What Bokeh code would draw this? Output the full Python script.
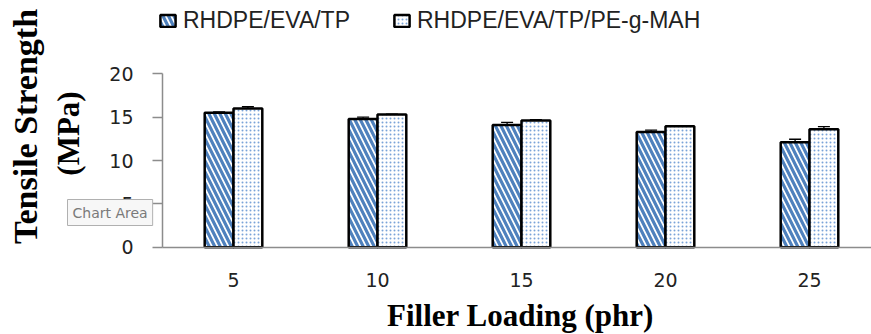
import numpy as np
from bokeh.plotting import figure
from bokeh.models import (Range1d, FixedTicker, ColumnDataSource, Whisker, TeeHead,
                          Legend, LegendItem, Label)
from bokeh.embed import file_html
from bokeh.resources import INLINE

# ---------------- data ----------------
loadings = [5, 10, 15, 20, 25]
series_names = ["RHDPE/EVA/TP", "RHDPE/EVA/TP/PE-g-MAH"]
ts_tp = [15.5, 14.8, 14.1, 13.3, 12.1]
err_tp = [0.1, 0.2, 0.3, 0.2, 0.35]
ts_mah = [16.0, 15.3, 14.6, 13.95, 13.6]
err_mah = [0.2, 0.05, 0.1, 0.05, 0.3]
y_ticks = [0, 5, 10, 15, 20]

# ---------------- geometry (frame covers the whole canvas) ----------------
W, H = 871, 334
PX_PER_X = 144 / 5.0       # pixels per x data unit
X5_PX = 233                # pixel column of the "5" category
Y0_PX, PX_PER_Y = 246.7, 173.4 / 20.0

def px_x(px):
    return 5 + (px - X5_PX) / PX_PER_X

def py_y(py):
    return (Y0_PX - py) / PX_PER_Y

p = figure(width=W, height=H, output_backend="svg", toolbar_location=None,
           x_range=Range1d(px_x(0), px_x(W)), y_range=Range1d(py_y(H), py_y(0)),
           min_border=0, min_border_left=0, min_border_right=0,
           min_border_top=0, min_border_bottom=0)
p.outline_line_color = None
p.xgrid.visible = False
p.ygrid.visible = False
p.background_fill_color = "white"
p.border_fill_color = "white"

bw = 1.0
x_tp = [v - bw / 2 for v in loadings]
x_mah = [v + bw / 2 for v in loadings]
src = ColumnDataSource(dict(x_tp=x_tp, x_mah=x_mah, tp=ts_tp, mah=ts_mah,
                            tp_lo=[a - b for a, b in zip(ts_tp, err_tp)],
                            tp_hi=[a + b for a, b in zip(ts_tp, err_tp)],
                            mah_lo=[a - b for a, b in zip(ts_mah, err_mah)],
                            mah_hi=[a + b for a, b in zip(ts_mah, err_mah)]))

r1 = p.vbar(x="x_tp", top="tp", width=bw, bottom=0, source=src,
            fill_color="white", line_color="black", line_width=2.5,
            hatch_pattern="\\", hatch_color="#4f81bd", hatch_scale=11, hatch_weight=3.2)
r2 = p.vbar(x="x_mah", top="mah", width=bw, bottom=0, source=src,
            fill_color="white", line_color="black", line_width=2.5,
            hatch_pattern=".", hatch_color="#7aa3d8", hatch_scale=4, hatch_weight=1.1)

for base, lo, hi in (("x_tp", "tp_lo", "tp_hi"), ("x_mah", "mah_lo", "mah_hi")):
    w = Whisker(base=base, lower=lo, upper=hi, source=src, line_color="black", line_width=1.3,
                upper_head=TeeHead(size=12, line_color="black", line_width=1.3),
                lower_head=TeeHead(size=12, line_color="black", line_width=1.3))
    p.add_layout(w)

# axes, pinned inside the frame
axis_col = "#8c8c8c"
xa = p.xaxis[0]
xa.fixed_location = 0
xa.bounds = (px_x(162), px_x(W))
xa.ticker = FixedTicker(ticks=loadings)
xa.axis_line_color = axis_col
xa.axis_line_width = 1.5
xa.major_tick_line_color = None
xa.minor_tick_line_color = None
xa.major_tick_out = 0
xa.major_tick_in = 0
xa.major_label_standoff = 26
xa.major_label_text_font = "DejaVu Sans"
xa.major_label_text_font_size = "19px"
xa.major_label_text_color = "#222222"

ya = p.yaxis[0]
ya.fixed_location = px_x(162)
ya.bounds = (0, 20)
ya.ticker = FixedTicker(ticks=y_ticks)
ya.axis_line_color = axis_col
ya.axis_line_width = 1.5
ya.major_tick_line_color = axis_col
ya.major_tick_line_width = 1.5
ya.major_tick_out = 10
ya.major_tick_in = 0
ya.minor_tick_line_color = None
ya.major_label_standoff = 19
ya.major_label_text_font = "DejaVu Sans"
ya.major_label_text_font_size = "19px"
ya.major_label_text_color = "#222222"

# titles
serif = "Liberation Serif"
p.add_layout(Label(x=px_x(25), y=py_y(126), text="Tensile Strength", angle=np.pi / 2,
                   text_align="center", text_baseline="middle", text_font=serif,
                   text_font_style="bold", text_font_size="34px", text_color="black"))
p.add_layout(Label(x=px_x(68), y=py_y(133), text="(MPa)", angle=np.pi / 2,
                   text_align="center", text_baseline="middle", text_font=serif,
                   text_font_style="bold", text_font_size="31px", text_color="black"))
p.add_layout(Label(x=px_x(520), y=py_y(315), text="Filler Loading (phr)",
                   text_align="center", text_baseline="middle", text_font=serif,
                   text_font_style="bold", text_font_size="31px", text_color="black"))

# "Chart Area" tooltip
p.add_layout(Label(x=px_x(67), y=py_y(212), text="Chart Area", text_align="left",
                   text_baseline="middle", text_font="DejaVu Sans", text_font_size="14px",
                   text_color="#7a7a7a", background_fill_color="#f7f7f7",
                   border_line_color="#b0b0b0", border_line_width=1, padding=5))

legend = Legend(items=[LegendItem(label=series_names[0], renderers=[r1]),
                       LegendItem(label=series_names[1], renderers=[r2])],
                orientation="horizontal", location=(158, H - 34),
                glyph_width=19, glyph_height=15, label_standoff=6, spacing=42,
                padding=0, margin=0, border_line_color=None, background_fill_alpha=0,
                label_text_font="Liberation Sans", label_text_font_size="23px",
                label_text_color="#222222")
p.add_layout(legend, "center")

open("out.html", "w").write(file_html(p, INLINE))
